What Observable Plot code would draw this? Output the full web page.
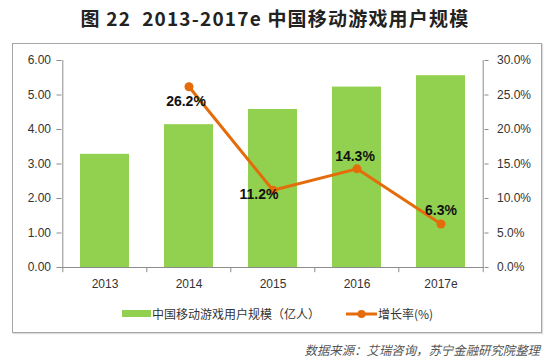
<!DOCTYPE html>
<html>
<head>
<meta charset="utf-8">
<script src="https://cdn.jsdelivr.net/npm/d3@7"></script>
<script src="https://cdn.jsdelivr.net/npm/@observablehq/plot@0.6"></script>
<style>
  html, body { margin: 0; padding: 0; background: #fff; }
  #root { position: relative; width: 550px; height: 362px; overflow: hidden; font-family: "Liberation Sans", "Noto Sans CJK SC", sans-serif; }
  #title { position: absolute; left: 0; top: 4px; width: 550px; text-align: center; font-family: "Noto Sans CJK SC", sans-serif; font-weight: bold; font-size: 19px; color: #222; letter-spacing: 1.2px; }
  #frame { position: absolute; left: 12px; top: 43px; width: 528px; height: 288px; border: 1px solid #a6a6a6; box-shadow: 1px 1px 1px #ddd; }
  #chart { position: absolute; left: 0; top: 43px; }
  #legend { position: absolute; top: 305px; left: 0; width: 550px; height: 18px; font-family: "Noto Sans CJK SC", sans-serif; font-size: 12px; color: #333; }
  .sw { position: absolute; }
  #source { position: absolute; right: 10px; top: 341px; font-family: "Noto Sans CJK SC", sans-serif; font-style: italic; font-size: 12.4px; color: #555; }
</style>
</head>
<body>
<div id="root">
  <div id="title">图 22&nbsp; 2013-2017e 中国移动游戏用户规模</div>
  <div id="frame"></div>
  <div id="chart"></div>
  <div id="legend"></div>
  <div id="source">数据来源：艾瑞咨询，苏宁金融研究院整理</div>
</div>
<script>
const years = ["2013", "2014", "2015", "2016", "2017e"];
const users = [3.28, 4.14, 4.58, 5.23, 5.56];
const rateYears = ["2014", "2015", "2016", "2017e"];
const rates = [26.2, 11.2, 14.3, 6.3];
const leftTicks = [0, 1, 2, 3, 4, 5, 6];
const seriesNames = ["中国移动游戏用户规模（亿人）", "增长率(%)"];

const green = "#92D050";
const orange = "#E46C0A";

const barData = years.map((y, i) => ({year: y, users: users[i]}));
const rateData = rateYears.map((y, i) => ({year: y, rate: rates[i]}));
// right axis: 0–30% maps onto 0–6
const toLeft = r => r / 5;
const labelOffsets = {"2014": [-3, 15], "2015": [-14, 4], "2016": [-2, -12], "2017e": [0, -14]};

const step = (483.5 - 61.5) / years.length;
const first = years[0], last = years[years.length - 1];
const axisStroke = "#8c8c8c";

const plot = Plot.plot({
  width: 550,
  height: 250,
  marginLeft: 61.5,
  marginRight: 66.5,
  marginTop: 17,
  marginBottom: 26,
  style: {fontFamily: "Liberation Sans, sans-serif", fontSize: "12px", color: "#333", background: "transparent"},
  x: {domain: years, paddingInner: 0.42, paddingOuter: 0.21, label: null},
  y: {domain: [0, 6], label: null},
  marks: [
    Plot.barY(barData, {x: "year", y: "users", fill: green}),
    Plot.ruleY([0], {stroke: axisStroke, strokeWidth: 1}),
    // category boundary ticks below the baseline
    Plot.ruleX(years, {x: d => d, y1: 0, y2: -0.15, dx: -step / 2, stroke: axisStroke}),
    Plot.ruleX([last], {x: d => d, y1: 0, y2: -0.15, dx: step / 2, stroke: axisStroke}),
    // vertical axis lines
    Plot.ruleX([first], {x: d => d, y1: 0, y2: 6, dx: -step / 2, stroke: axisStroke}),
    Plot.ruleX([last], {x: d => d, y1: 0, y2: 6, dx: step / 2, stroke: axisStroke}),
    Plot.axisY({anchor: "left", ticks: leftTicks, tickSize: 5, tickPadding: 6, tickFormat: d => d.toFixed(2), stroke: axisStroke, label: null, fontSize: 12, fill: "#333"}),
    Plot.axisY({anchor: "right", ticks: leftTicks, tickSize: 4, tickPadding: 9, tickFormat: d => (d * 5).toFixed(1) + "%", stroke: axisStroke, label: null, fontSize: 12, fill: "#333"}),
    Plot.axisX({tickSize: 0, tickPadding: 12, label: null, fontSize: 12, fill: "#333"}),
    Plot.line(rateData, {x: "year", y: d => toLeft(d.rate), stroke: orange, strokeWidth: 3}),
    Plot.dot(rateData, {x: "year", y: d => toLeft(d.rate), r: 4.5, fill: orange}),
    ...rateData.map(d => Plot.text([d], {
      x: "year", y: r => toLeft(r.rate), text: r => r.rate.toFixed(1) + "%",
      dx: labelOffsets[d.year][0], dy: labelOffsets[d.year][1],
      fontWeight: "bold", fontSize: 14, fill: "#111"
    }))
  ]
});
document.getElementById("chart").appendChild(plot);

// legend
const lg = document.getElementById("legend");
lg.innerHTML = `
  <div class="sw" style="left:122px;top:5px;width:29px;height:7px;background:${green}"></div>
  <div style="position:absolute;left:152px;top:0;line-height:18px">${seriesNames[0]}</div>
  <svg class="sw" style="left:346px;top:0" width="31" height="18"><line x1="0" x2="31" y1="9" y2="9" stroke="${orange}" stroke-width="3"/><circle cx="15.5" cy="9" r="4" fill="${orange}"/></svg>
  <div style="position:absolute;left:378px;top:0;line-height:18px">${seriesNames[1]}</div>
`;
</script>
</body>
</html>
